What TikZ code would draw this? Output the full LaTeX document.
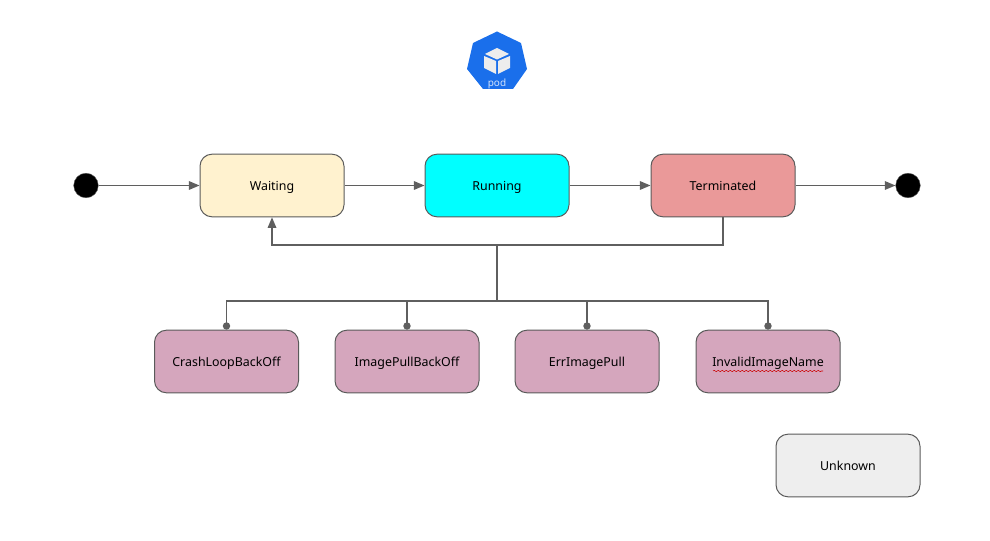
\documentclass[tikz,border=0pt]{standalone}
\usepackage{fontspec}
\setmainfont{Noto Sans}
\usetikzlibrary{arrows.meta,decorations.pathmorphing}
\definecolor{linec}{HTML}{5F5F5F}
\definecolor{edgec}{HTML}{5A5A5A}
\definecolor{kblue}{HTML}{1A6FEB}
\definecolor{pinkc}{HTML}{D5A6BD}
\definecolor{cyanc}{HTML}{00FFFF}
\definecolor{yellowc}{HTML}{FFF2CF}
\definecolor{redc}{HTML}{EA9999}
\definecolor{grayc}{HTML}{EEEEEE}
\tikzset{
  x=0.75pt,y=-0.75pt,
  state/.style={draw=edgec,line width=0.75pt,rounded corners=9pt,minimum width=108pt,minimum height=47pt,inner sep=0pt,font=\fontsize{9.3pt}{11pt}\selectfont,text=black,text height=9pt,text depth=1pt},
  pinkbox/.style={state,fill=pinkc},
  endpt/.style={circle,fill=black,draw=black!60,line width=0.3pt,minimum size=18.5pt,inner sep=0pt},
  flow/.style={draw=linec,line width=0.9pt,-{Triangle[length=8pt,width=6.5pt]}},
  link/.style={draw=linec,line width=0.9pt},
  dotlink/.style={draw=linec,line width=0.9pt,-{Circle[length=5.5pt]}},
}
\begin{document}
\begin{tikzpicture}
\useasboundingbox (0,0) rectangle (990,541);
% pod icon
\fill[kblue,line join=round] (497,31.5) -- (521,43) -- (527,69) -- (513,89) -- (483,89) -- (467,69) -- (473,43) -- cycle;
\fill[white!93!black] (497,48) -- (509,54) -- (497,59.5) -- (485,54) -- cycle;
\fill[white!93!black] (484,56) -- (496,61) -- (496,74) -- (484,68) -- cycle;
\fill[white!93!black] (510,56) -- (498,61) -- (498,74) -- (510,68) -- cycle;
\node[inner sep=0pt,text=white!80!kblue,font=\fontsize{7.5pt}{8pt}\selectfont,text height=5.5pt,text depth=1.5pt] (podlabel) at (497,84) {pod};
% states
\node[endpt] (start) at (86,185.5) {};
\node[endpt] (finish) at (908,185.5) {};
\node[state,fill=yellowc] (waiting) at (272,185.5) {Waiting};
\node[state,fill=cyanc] (running) at (497,185.5) {Running};
\node[state,fill=redc] (terminated) at (723,185.5) {Terminated};
\node[pinkbox] (crash) at (226.5,361.5) {CrashLoopBackOff};
\node[pinkbox] (pull) at (407,361.5) {ImagePullBackOff};
\node[pinkbox] (err) at (587,361.5) {ErrImagePull};
\node[pinkbox] (invalid) at (768,361.5) {InvalidImageName};
\node[state,fill=grayc] (unknown) at (848,465.5) {Unknown};
% top row
\draw[flow] (start) -- (waiting);
\draw[flow] (waiting) -- (running);
\draw[flow] (running) -- (terminated);
\draw[flow] (terminated) -- (finish);
% feedback
\coordinate (fbr) at (723,245);
\coordinate (fbl) at (272,245);
\coordinate (junc) at (497,245);
\coordinate (bus) at (497,301);
\draw[flow] (terminated.south) -- (fbr) -- (fbl) -- (waiting.south);
\draw[link] (junc) -- (bus);
\draw[dotlink] (bus) -| (crash.north);
\draw[dotlink] (bus) -| (pull.north);
\draw[dotlink] (bus) -| (err.north);
\draw[dotlink] (bus) -| (invalid.north);
% spell-check squiggle
\coordinate (sqa) at (713,371);
\coordinate (sqb) at (823,371);
\draw[red!80!black,line width=0.4pt,decorate,decoration={snake,amplitude=0.5pt,segment length=3pt}] (sqa) -- (sqb);
\end{tikzpicture}
\end{document}
